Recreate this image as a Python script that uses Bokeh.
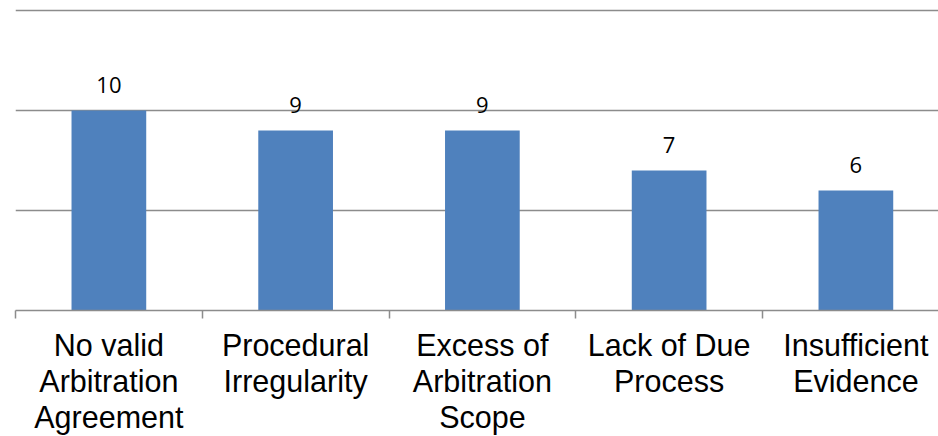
from bokeh.plotting import figure
from bokeh.models import ColumnDataSource, Range1d, FixedTicker
from bokeh.core.properties import value
from bokeh.embed import file_html
from bokeh.resources import INLINE

categories = ["No valid\nArbitration\nAgreement", "Procedural\nIrregularity",
              "Excess of\nArbitration\nScope", "Lack of Due\nProcess",
              "Insufficient\nEvidence"]
counts = [10, 9, 9, 7, 6]
grid_values = [5, 10, 15]

xs = [i + 0.5 for i in range(len(categories))]
src = ColumnDataSource(dict(x=xs, top=counts, label=[str(c) for c in counts]))

p = figure(width=938, height=436, output_backend="svg", toolbar_location=None,
           x_range=Range1d(0, 4.9424), y_range=Range1d(0, 15.1),
           min_border_left=15, min_border_right=0, min_border_top=8, min_border_bottom=126)
p.outline_line_color = None
p.background_fill_color = "white"
p.border_fill_color = "white"

p.vbar(x="x", top="top", bottom=0, width=0.4, source=src,
       fill_color="#4F81BD", line_color=None)
p.text(x="x", y="top", text="label", source=src, y_offset=-26,
       text_align="center", text_baseline="alphabetic",
       text_font=value("Open Sans"), text_font_size="22px", text_color="black")

p.yaxis.visible = False
p.ygrid.ticker = FixedTicker(ticks=grid_values)
p.ygrid.grid_line_color = "#8c8c8c"
p.ygrid.grid_line_width = 1.5
p.xgrid.visible = False

ax = p.xaxis[0]
ax.ticker = FixedTicker(ticks=xs, minor_ticks=list(range(len(categories) + 1)))
ax.major_label_overrides = {x: c for x, c in zip(xs, categories)}
ax.major_tick_line_color = None
ax.major_tick_out = 0
ax.major_tick_in = 0
ax.minor_tick_line_color = "#8c8c8c"
ax.minor_tick_line_width = 1.5
ax.minor_tick_out = 8
ax.minor_tick_in = 0
ax.axis_line_color = "#8c8c8c"
ax.axis_line_width = 1.5
ax.major_label_text_font = "Liberation Sans"
ax.major_label_text_font_size = "30.5px"
ax.major_label_text_line_height = 1.065
ax.major_label_text_color = "black"
ax.major_label_standoff = 9

open("out.html", "w").write(file_html(p, INLINE))
